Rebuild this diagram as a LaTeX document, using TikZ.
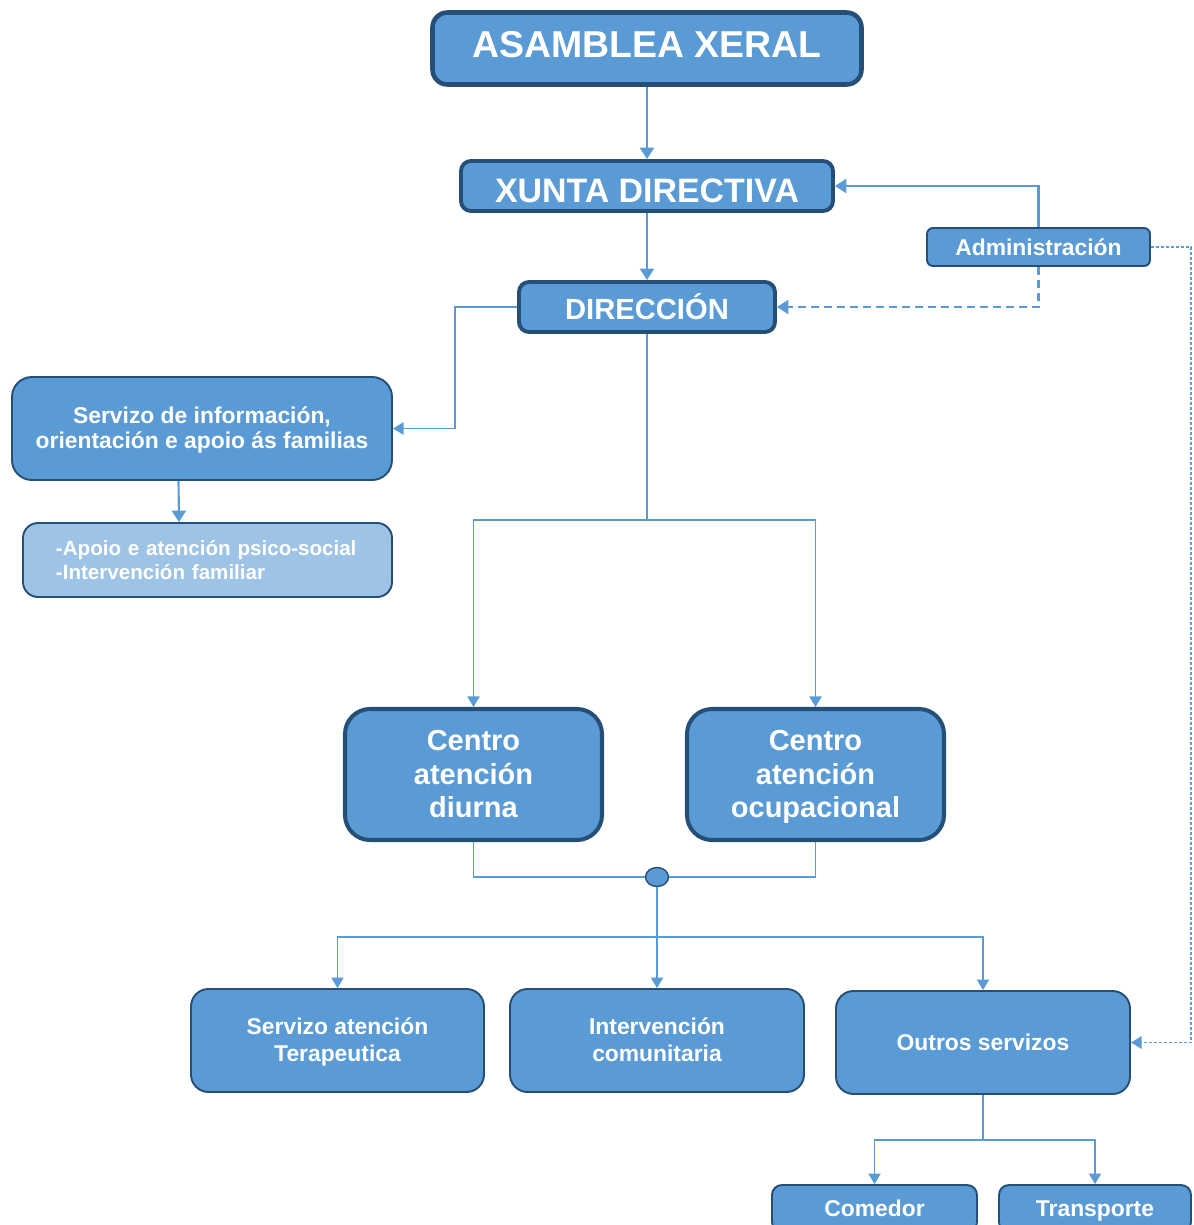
\documentclass[tikz,border=0pt]{standalone}
\usepackage{fontspec}
\setmainfont{Liberation Sans}
\usetikzlibrary{arrows.meta,shapes.geometric}
\definecolor{bfill}{HTML}{5B9BD5}
\definecolor{bdark}{HTML}{264F78}
\definecolor{lfill}{HTML}{9DC3E6}
\newcommand\topstr{\rule{0pt}{0.93em}}
\newcommand\botstr{\rule[-0.27em]{0pt}{0.27em}}
\tikzset{
  box/.style={draw=bdark, fill=bfill, text=white, font=\bfseries, align=center, inner sep=0pt},
  heavy/.style={box, line width=2.6pt, rounded corners=0.3cm},
  medium/.style={box, line width=2.2pt, rounded corners=0.2cm},
  centrobox/.style={box, line width=2.3pt, rounded corners=0.5cm, minimum width=5.14cm, minimum height=2.62cm,
     font=\bfseries\fontsize{16.5}{19.3}\selectfont},
  lightbox/.style={box, line width=1.1pt, rounded corners=0.4cm},
  bottombox/.style={box, line width=1.1pt, rounded corners=0.35cm, font=\bfseries\fontsize{13}{15.3}\selectfont},
  conn/.style={draw=bfill, line width=1.2pt, -{Triangle[width=8pt,length=6.5pt]}},
  thinconn/.style={draw=bfill, line width=0.8pt, -{Triangle[width=7pt,length=6pt]}},
  thinline/.style={draw=bfill, line width=0.8pt},
}
\begin{document}
\begin{tikzpicture}
\useasboundingbox (0,0) rectangle (23.86,-24.5);

% main hierarchy
\node[heavy, minimum width=8.58cm, minimum height=1.44cm, text height=15.25pt, text depth=4.6pt,
  font=\bfseries\fontsize{21.3}{25}\selectfont]
  (asam) at (12.94,-0.97) {ASAMBLEA XERAL};
\node[medium, minimum width=7.44cm, minimum height=1.0cm, text height=18.4pt, text depth=0pt,
  font=\bfseries\fontsize{19.3}{22}\selectfont]
  (xunta) at (12.94,-3.72) {XUNTA DIRECTIVA};
\node[medium, minimum width=5.12cm, minimum height=1.0cm, font=\bfseries\fontsize{16.6}{19}\selectfont]
  (dir) at (12.94,-6.14) {DIRECCIÓN};
\node[box, line width=1.1pt, rounded corners=0.12cm, minimum width=4.46cm, minimum height=0.76cm,
  font=\bfseries\fontsize{13}{15}\selectfont] (admin) at (20.77,-4.94) {Administración};

% family services
\node[lightbox, minimum width=7.6cm, minimum height=2.06cm, font=\bfseries\fontsize{13}{14.7}\selectfont]
  (serv) at (4.04,-8.57) {\topstr Servizo de información,\\orientación e apoio ás familias\botstr};
\node[lightbox, fill=lfill, rounded corners=0.3cm, minimum width=7.38cm, minimum height=1.48cm,
  align=left, inner xsep=0.66cm, text width=6.06cm, font=\bfseries\fontsize{11.7}{13.6}\selectfont]
  (apoio) at (4.15,-11.2) {-Apoio e atención psico-social\\-Intervención familiar};

% centres
\node[centrobox] (diurna) at (9.47,-15.49) {\topstr Centro\\atención\\diurna\botstr};
\node[centrobox] (ocup) at (16.31,-15.49) {\topstr Centro\\atención\\ocupacional\botstr};
\node[draw=bdark, fill=bfill, line width=0.8pt, ellipse, minimum width=0.46cm, minimum height=0.38cm,
  inner sep=0pt] (jn) at (13.14,-17.54) {};

% services
\node[bottombox, minimum width=5.86cm, minimum height=2.06cm] (tera) at (6.75,-20.81) {\topstr Servizo atención\\Terapeutica\botstr};
\node[bottombox, minimum width=5.88cm, minimum height=2.06cm] (inter) at (13.14,-20.81) {\topstr Intervención\\comunitaria\botstr};
\node[bottombox, minimum width=5.88cm, minimum height=2.06cm] (outros) at (19.66,-20.85) {\topstr Outros servizos\botstr};
\node[bottombox, rounded corners=0.2cm, minimum width=4.1cm, minimum height=0.94cm] (comedor) at (17.49,-24.17) {\topstr Comedor\botstr};
\node[bottombox, rounded corners=0.2cm, minimum width=3.84cm, minimum height=0.94cm] (transp) at (21.9,-24.17) {\topstr Transporte\botstr};

% connectors
\draw[conn] (asam) -- (xunta);
\draw[conn] (xunta) -- (dir);

\coordinate (k1) at (9.1,-6.14);
\draw[thinconn] (dir.west) -- (k1) |- (serv.east);
\draw[conn] ([xshift=-0.47cm]serv.south) -- ([xshift=-0.57cm]apoio.north);

\coordinate (b1) at (12.94,-10.4);
\draw[thinline] (dir.south) -- (b1);
\draw[thinconn] (b1) -| (diurna.north);
\draw[thinconn] (b1) -| (ocup.north);

\draw[conn] (admin.north) |- (xunta.east);
\draw[conn, dash pattern=on 0.16cm off 0.1cm] (admin.south) |- (dir.east);
\coordinate (k2) at (23.82,-4.94);
\draw[draw=bfill, line width=1pt, dash pattern=on 0.06cm off 0.04cm, -{Triangle[width=7pt,length=6pt]}]
  (admin.east) -- (k2) |- (outros.east);

\draw[thinline] (diurna.south) |- (jn.west);
\draw[thinline] (ocup.south) |- (jn.east);
\draw[thinconn] (jn.south) -- (inter.north);

\coordinate (h1) at (13.14,-18.74);
\draw[thinconn] (h1) -| (tera.north);
\draw[thinconn] (h1) -| (outros.north);

\coordinate (h2) at (19.66,-22.8);
\draw[thinline] (outros.south) -- (h2);
\draw[thinconn] (h2) -| (comedor.north);
\draw[thinconn] (h2) -| (transp.north);
\end{tikzpicture}
\end{document}
